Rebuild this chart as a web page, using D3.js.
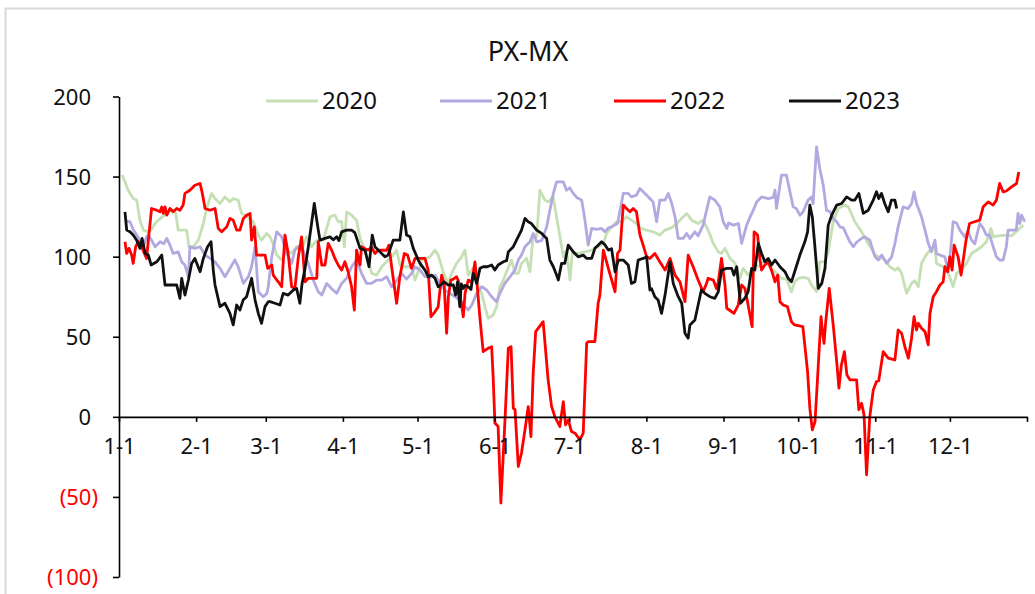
<!DOCTYPE html>
<html>
<head>
<meta charset="utf-8">
<script src="https://cdn.jsdelivr.net/npm/d3@7"></script>
<style>
html,body{margin:0;padding:0;background:#fff;}
svg{display:block;font-family:"Noto Sans","Open Sans",sans-serif;}
</style>
</head>
<body>
<svg id="chart" width="1035" height="594"></svg>
<script>
// ---- data (day of year, value) ----
const seriesNames = ["2020","2021","2022","2023"];
const monthStartDays = [0,31,59,90,120,151,181,212,243,273,304,334,365];
const monthLabels = ["1-1","2-1","3-1","4-1","5-1","6-1","7-1","8-1","9-1","10-1","11-1","12-1",""];
const yTicks = [-100,-50,0,50,100,150,200];

const days2020 = [1.3,3.7,5.7,7.1,8.4,9.8,11.8,12.9,14.5,15.8,17.8,19.8,21.8,22.8,23.8,25.2,27.2,28.1,29.9,31.9,33.9,35.2,37.2,38.6,40.6,42.6,44.6,45.9,47.9,49.3,51.3,54,56,57.3,59.4,60.7,62,63.4,65.4,67.4,69.4,71.4,73.4,75.4,77.4,79.4,82.1,84.8,86.8,88.1,89.5,90.6,91.5,93.5,95.5,96.9,98.9,101.6,103.6,105.6,108.2,110.2,111.6,112.9,114.9,117.6,119,120.3,121.7,123.5,125,127,128.3,130.3,132.3,133.7,135.7,137.7,139.1,140.4,142.4,144.4,145.8,147.1,148.4,150.4,151.8,153.1,154.5,155.8,157.8,159.2,160.5,161.8,163.8,165.2,166.5,167.9,169.2,171.2,172.5,174.5,176.6,178.6,179.9,181.3,182.2,184.6,187.3,190,192.6,194.6,196,198,200,202,204,206,208,210,212,214.8,217.4,219.5,222,224.2,226.2,228.2,230.2,232.8,234.8,236.8,238.9,240.9,242.2,243.6,245.6,247.6,249.6,250.9,252.9,254.2,255.6,257.6,259.6,261,263.7,266.3,268.3,270.3,271.6,273,275,277,278.4,280.4,281.7,283.8,285.1,287.1,289.1,291.8,293.2,295.8,298.5,300.5,302,303.9,305.9,307.9,309.9,311.9,313.2,314.6,316.6,318.6,319.9,321.3,322.6,324,326,328,328.6,331.3,333.3,335.3,336.7,338.7,340.7,342.7,344.7,346.7,348.7,350.5,351.4,353.4,356.1,358.8,361.4,363.5];
const vals2020 = [151,141.5,136.3,135.3,122.8,116.6,115.5,116.6,120.7,122.8,125.3,128,129,127,116.6,116.6,116.6,106.2,106.2,110.3,120.7,130.1,139.5,136.3,133.2,137.3,134.2,136.3,135.3,127,125.3,121.8,113.5,110.3,114.5,112.4,108,101,97.9,104.1,102.2,106.2,104,112.4,106.2,110,110.3,124.9,125.9,121.8,122,106.2,128,125.9,122.8,111.4,104.1,89.6,88.5,93.7,97.9,101,104.1,94.8,93.7,93.7,85.4,90.6,97.9,99,99.9,104.1,101,90.6,83.3,89.6,95.8,99.9,104.1,88.5,93,81.2,77.1,68.8,61.5,63.6,68.8,81.2,85.4,90.6,97.9,89.6,89.6,95.8,99,90.6,113.5,112.4,141.5,135.3,134.2,137.3,118.6,99.9,104,85.4,102,102,103,104,106.2,108,114.5,118.6,121.8,121.8,124.9,122.8,120.7,117.6,116.6,115.5,113.5,116.6,118,120.7,123.9,127,122.8,120.7,122.8,116.6,108.3,103,102,105.2,98.9,96,86.5,92.7,88.5,91,94.8,94,97.9,94.8,90.6,86.5,86,78.1,84.3,86.5,87,86.5,82.3,78.1,96.8,96.8,103,121.8,130.1,132.2,131,121.8,115.5,110,106.2,101,99.5,97.9,93.7,91.6,93,89.6,77.1,83.3,85,81.2,95.8,99.9,104.1,106.2,95.8,93.7,90,81.2,89.6,92,95.8,102,104,106.2,109.3,117.6,112.4,113,113.5,113,116.6,119.7];

const days2021 = [3,4.4,5.8,7.1,8.4,9.8,11.1,11.8,13.1,14.5,16.5,18,19.2,20.5,21.8,23.8,25.2,26.5,27.9,28.5,30.5,32.6,34.6,36.6,38.6,40.6,42.6,44.6,46.6,47.9,50,52,53.3,54.7,56,58,59.4,60,61.4,63.4,65.4,67.4,69.4,70.7,72.1,74,76.1,78.1,80.1,81.5,83.5,85.5,87.5,89.5,91.5,93.5,95.5,97.5,99.5,101.5,103.6,105.6,107.6,109.6,111.6,113.6,115.6,117.6,119,121,123,125,127,129,131,133,135,137,139.1,140.4,141.8,143.8,145.8,147.8,149.8,151.8,153.1,155.1,157.2,159.2,160.5,161.8,163.2,165.2,166.5,167.9,169.9,171.9,173.2,174.6,175.9,178.6,179.9,181.2,182.6,184,186,187.3,188.6,190,192,194,195.3,196.7,198,200.4,202.7,204.7,206,208,209.4,211.4,213.4,214.7,216.1,217.4,219.5,220.8,222.2,223.5,224.8,226.8,228.2,229.5,231.5,232.8,234.8,236.2,237.5,239.5,241.5,242.9,244.3,245,247,249,250.3,252.3,253.7,255,256.3,258.3,261,263,263.7,264.3,266.3,268.3,269.7,271,272.3,273.7,275,277,278.4,279,280.4,281.7,283.1,284.4,285.8,287.1,288.5,289.8,291.2,292.5,293.8,295.2,296.5,298.5,299.8,301.8,303.9,305.2,306.6,308.6,310.6,311.9,313.2,315.2,317.2,318.6,319.6,320.6,322.6,324,325.3,326.6,328,328.6,330,332,333.3,334.4,335.3,336.7,338,340,341.3,342.7,344,346,347.3,348.7,350,351.4,352.7,354,355.4,356.7,357.4,359,360.7,361.4,362.1,362.8,364.1];
const vals2021 = [122,121.8,116.6,113.5,110.3,106.2,112.4,113.5,110.3,106.2,109.3,108,111.4,107.2,102,103,96.8,94.8,87.5,106.2,105.2,106.2,101,98.9,96.8,92.7,87.5,92.7,97.9,93.7,83.3,87.5,93.7,106.2,78.1,75,77,81.2,99.9,115.5,112.4,102,95.8,104.1,106.2,104,95.8,85.4,78.1,76,83.3,80,77.1,83.3,86.5,93.7,97.9,89.6,83.3,83.3,85.4,85.4,87.5,81.2,85,89.6,86,89.6,93.7,91.6,87.5,87,88.5,83.3,79.2,77.1,75,72.9,68.8,66.7,69.8,77.1,81.2,79.2,75,71.9,77.1,83.3,87.5,91.6,97.9,101,106.2,109.3,114.5,109.3,110,118.6,129,139.5,146.7,146.7,141.5,143,139.5,137,135.3,122.8,107.2,117.6,117,117.6,115.5,118,118.6,120.7,139.5,139.5,137.3,138.4,142.6,139.5,136.3,134.2,121.8,135.3,135.3,139.5,133.2,124.9,111.4,111.4,114.5,111.4,115.5,113,119.7,129,137.3,135.3,131.1,121.8,117.6,121,119.7,120.7,108.3,119.7,124.9,129,134.2,137.3,136.3,137,141.5,130.1,150.9,150.9,140.5,131.1,130,125.9,128,135.3,137.3,133,168.5,155,144.6,129,128,123.9,121.8,118.6,118,113.5,109.3,106.2,109,111.4,112.4,110.3,99.9,97.9,101,95.8,99.9,108.3,118.6,131.1,130,133.2,140.5,133.2,124.9,116.6,108.3,103,110.3,102,101,99.9,90.6,106.2,121.8,121,116.6,112.4,116,110.3,108,120.7,118,113.5,113.5,106.2,99.9,97.9,97.9,106.2,116.6,116.6,116.6,127,120.7,125.9,121.8];

const days2022 = [2.4,3.1,4,5.1,5.7,6.7,7.8,9.1,10.2,11.1,11.8,13.1,15.2,16.5,17.2,17.8,18.5,19.2,20.5,21.8,23.2,24.5,25.8,26.5,28.5,30.5,32.6,33.5,34.6,36.6,38.6,39.9,41.3,43.3,44.6,45.9,47.3,48.6,50,51.3,52.7,53.3,54.4,55.3,57.3,58.7,59.8,61.4,62,64,65.4,66.7,68,69.4,70.7,72.1,73.4,74.8,76.1,79.5,80.1,81.5,82.8,84.1,85.5,86.8,88.1,89.5,90.8,92.1,93.5,94.6,95.5,96.9,97.5,98.9,100.2,101.5,102.9,104.2,106.2,107.6,108.5,109.6,111.6,112.9,114.7,116,117.6,119,121,123,124.3,125.4,127,128.3,129.7,130.7,131.7,132.4,133.4,134.4,135.7,136.4,137,138.4,139.1,140.4,141.8,143.1,143.8,145.1,146.4,148.4,149.8,150.4,151.1,152.4,153.5,155.1,156.5,157.6,158.5,159.2,160.5,161.8,163.2,164.5,165.6,166.5,167.5,170.5,172.5,173.9,175.2,177.2,178.6,179.5,180.6,181.9,183.3,185.3,186.6,188,188.6,191.3,192.6,193.3,194.7,196.7,199.4,200.4,201.4,202.7,204,205.4,206.7,208,209.4,210.7,212.1,213.4,215.4,217.4,219.5,221.5,223.5,225.5,227.5,228.8,230.8,232.8,234.8,236.2,236.8,238.9,240.2,240.9,242.2,243.6,244.3,246.3,247.2,248.9,250.3,251.6,252.9,254.5,255.3,256.7,257.6,258.3,259.6,261,262.5,263.7,264.8,265.7,267,268.7,270.3,271.6,274.9,276.8,277.7,278.7,279.8,280.8,282.2,282.8,283.4,284.1,285.5,287.1,288.5,289.4,290.4,291.6,292.6,293.8,296.5,297.4,298.5,299.5,300.5,301.8,303.2,304.5,305.4,307.2,309.2,311.9,313.2,314.6,315.9,317.3,318.6,319.6,320.6,321.3,322.6,324,325.3,326,327.3,328.6,330,331.3,332,333.1,334,334.9,335.7,337.3,338.5,340.5,341.9,343.9,346,347.4,349.4,351.4,352.7,354,355.4,356.7,358.8,360.8,361.7];
const vals2022 = [109.3,102,105.2,101,95.8,106.2,109.3,106.2,102,98.9,110.3,130.1,129,128,131,127,131.1,125.9,130.1,128,130.1,129,132.2,139.5,141.5,144.6,145.7,139.5,130.1,129,130.1,117.6,115.5,118.6,123.9,122.8,116.6,116.6,123.9,125.9,127,110.3,118.6,101,101,101,92.7,94.8,88.5,84.3,81.2,113.5,102,81.2,80.2,99.9,112.4,84.3,86.5,86.5,109.3,94.8,94.8,108.3,104,98.9,94.8,91.6,96.8,90.6,81.2,66.7,104.1,94.8,106.2,105,104.1,106,102,104,104.1,104,107.2,93.7,70.9,87.5,102,101,92.7,98.9,98.9,98.9,91.6,62.5,65.6,68.8,88.5,83.3,52.2,75,85.4,86,87.5,85,77.1,62.5,77.1,85.4,84,96.8,85.4,61.5,40.7,42.8,43.8,25.1,-3.9,-6,-53.8,-3.9,42.8,43.8,5.4,4.5,-31,-22.6,-8.1,6.4,-12.3,27.2,53.2,59.4,23.1,6.4,0.2,-6,9.5,-5,-1.9,-9.2,-10.2,-14.3,-10.2,45.9,46.9,46.9,70.9,76,104.1,92.7,78.1,102,104.1,132.2,130.1,128,130.1,128,113.5,107.2,99.9,98.9,102,96.8,91.6,98.9,88.5,84.3,71.9,101,93.7,85.4,78.1,83.3,86.5,85.4,80,84.3,98.9,82.3,67.8,65.6,64.6,69.8,82.3,80.2,69.8,56.3,115.5,113.5,98.9,91.6,94.8,96.8,90.6,84.3,88.5,71.9,69.8,68.8,59.4,57.4,56.3,28.2,5.4,-8.1,-2.9,24.1,62.5,53.2,45.9,59.4,80.2,57.4,34.5,17.9,32.4,40.7,26.2,23.1,23.1,4.4,8.5,1.2,-36.2,0.2,16.8,22,22.5,40.7,36.6,35.5,54.2,52.2,43.8,36.6,49.1,62.5,54.2,58.4,55.3,53.2,44.9,64.6,75,78.1,82.3,84.3,93.7,90.6,99.9,91.6,107.2,99.9,88.5,110.3,120.7,121.8,122.8,131.1,134.2,132.2,135.3,145.7,140.5,141,143.6,145.7,152.9];

const days2023 = [2.4,3.1,4.4,5.7,7.1,8.4,9.3,10.5,11.8,12.9,15.2,17.2,18.5,20.5,23.2,24.5,25.2,26.5,27.9,29.2,30.5,32.6,33.9,35.6,37,37.9,38.6,40.6,42.6,44.6,45.9,47.3,48.6,49.9,51.3,53.3,54.7,56,57.3,58.7,60,60.7,62.7,64.7,66,68,70.1,71.4,72.7,73.6,74.8,76.1,77.4,78.5,79.9,80.8,82.8,84.8,86.1,87.5,88.4,89.5,91.5,93.5,94.8,96.9,98.9,100.5,101.8,102.9,104.9,106.9,108.2,110.2,112.9,114.3,115.6,117,118.3,120.3,121,123,124.3,125.6,127,128.3,129.7,130.7,132.4,134.4,135.3,136.1,137,137.6,138.4,139,140.4,141.5,142.4,143.8,145.1,146.4,148.1,149.8,151.1,152.4,154.5,155.8,156.5,158.5,159.8,161.8,163.2,164.5,165.8,167.9,169.9,171.9,173.2,174.6,175.9,176.6,177.9,179.2,180.6,182.6,184.6,186.6,188,190,191.3,192.6,194,195.3,196.7,198,199.4,200.7,202.7,204.7,206,207.4,208.7,210.7,212.1,213.4,214.1,215.4,216.7,218.1,219.5,221.5,222.8,224.8,226.2,227.5,228.8,229.5,231.5,232.8,234.1,235.5,237.5,239.5,240.9,242.2,244.3,246.3,247.2,248.3,249.8,251.6,252.9,254.3,255.6,257,258.3,259.6,261,262.3,263.7,265.7,267.7,269,270.3,271.6,273.7,275.7,276.8,277.7,278.7,279.8,281.1,282.5,283.8,285.1,286.5,288.5,290.5,292.5,294.5,295.8,297.4,299.2,301.2,303.2,304.5,305.4,306.5,307.8,309.2,310.5,311.9,312.6];
const vals2023 = [128,116.6,115.5,113.5,110.3,105.2,111.4,102,101,94.8,96.8,101,82.3,82.3,82.3,74,86.5,76,85.4,95.8,98.9,90.6,98.9,106.2,109.3,91.6,82.3,68.8,70.9,64.6,57.4,69.8,66.7,72.9,75,86.5,72.9,64.6,58.4,68.8,71.9,71.9,70.9,69.8,77.1,76,79.2,80.2,70.9,83.3,92.7,106.2,120.7,133.2,118.6,110.3,111.4,112.4,110.5,112.4,110,115.5,116.6,116.6,115,105.2,104,93.7,113.5,106.2,103,99.9,101,110.3,110.3,128,113.5,112.4,105.2,97.9,95.8,91.6,87.5,88.5,86.5,81.2,82.8,84.3,82.3,82.3,76,84.3,68.8,83,80.2,82,81.2,79.5,89.6,83.3,92.7,93.7,93.7,94.8,91.6,94.8,96.8,97.5,103,106.2,110.3,116.6,123.9,121.8,120.7,116.6,114.5,111.4,97.9,93.7,88.5,85.4,95.8,95.8,107.2,103,99.9,101,98.9,98.9,105.2,107.2,109.3,107.5,104.1,105,90.6,97.9,97.9,94.8,83.3,84.3,97.9,98.9,99.9,79.2,80,75,73,64.6,76,96.8,83.3,75,70.9,52.2,49.1,57.4,60.5,69.8,79.2,77.1,75,74,78.1,91.6,92.7,92.7,88.5,93.7,70.9,74,78.1,92.7,91.6,108.3,102,96.8,98.9,94.8,97.9,93.7,90.6,86.5,84.3,90.6,101,109.3,115.5,132.2,124.9,105.2,80.2,83.3,92.7,119.7,125.9,132.2,133.2,137.3,135.3,135.3,139.5,127,129,135.3,140.5,136.3,139.5,133.2,128,135.3,135.3,130.1];

const seriesDays = [days2020, days2021, days2022, days2023];
const seriesVals = [vals2020, vals2021, vals2022, vals2023];
const seriesColors = ["#c5e0b4","#b4a8e0","#ff0000","#111111"];

// ---- drawing ----
const svg = d3.select("#chart");
const FAMILY = "Noto Sans";
const FONT = 22;

svg.append("rect").attr("x",5.5).attr("y",8.5).attr("width",1100).attr("height",700)
  .attr("fill","none").attr("stroke","#d9d9d9").attr("stroke-width",2);

const x = d3.scaleLinear().domain([0,365]).range([119,1027]);
const y = d3.scaleLinear().domain([-100,200]).range([577,96.5]);

svg.append("text").attr("x",528).attr("y",61).attr("text-anchor","middle")
  .attr("font-family",FAMILY).attr("font-size",27).attr("fill","#111").text("PX-MX");

const line = d3.line().x(d=>x(d[0])).y(d=>y(d[1]));

seriesNames.forEach((name,i)=>{
  const pts = seriesDays[i].map((d,j)=>[d, seriesVals[i][j]]);
  svg.append("path").datum(pts).attr("d",line).attr("fill","none")
    .attr("stroke",seriesColors[i]).attr("stroke-width",2.8)
    .attr("stroke-linejoin","round");
});

// Y axis
const yAxis = svg.append("g").attr("transform","translate(119,0)")
  .call(d3.axisLeft(y).tickValues(yTicks).tickSize(6).tickSizeOuter(0)
    .tickFormat(v=> v<0 ? "("+Math.abs(v)+")" : String(v)));
yAxis.attr("font-family",FAMILY).attr("font-size",FONT);
yAxis.select(".domain").attr("stroke","#000").attr("stroke-width",1.6);
yAxis.selectAll(".tick line").attr("stroke","#000").attr("stroke-width",1.6);
yAxis.selectAll(".tick text")
  .attr("x",v=> v<0 ? -21 : -28).attr("dy","0.35em")
  .attr("fill",v=> v<0 ? "#ff0000" : "#111");

// X axis at y=0
const xAxis = svg.append("g").attr("transform",`translate(0,${y(0)})`)
  .call(d3.axisBottom(x).tickValues(monthStartDays).tickSize(5).tickSizeOuter(0)
    .tickFormat((d,i)=>monthLabels[i]));
xAxis.attr("font-family",FAMILY).attr("font-size",FONT);
xAxis.select(".domain").attr("stroke","#000").attr("stroke-width",1.6);
xAxis.selectAll(".tick line").attr("stroke","#000").attr("stroke-width",1.6);
xAxis.selectAll(".tick text").attr("y",37).attr("dy",0).attr("fill","#111");

// Legend
const legendX = [266,440,614,789];
seriesNames.forEach((name,i)=>{
  const g = svg.append("g").attr("transform",`translate(${legendX[i]},101)`);
  g.append("line").attr("x1",0).attr("x2",52).attr("y1",0).attr("y2",0)
    .attr("stroke",seriesColors[i]).attr("stroke-width",2.8);
  g.append("text").attr("x",56).attr("y",8).attr("font-family",FAMILY)
    .attr("font-size",24).attr("fill","#111").text(name);
});
</script>
</body>
</html>
